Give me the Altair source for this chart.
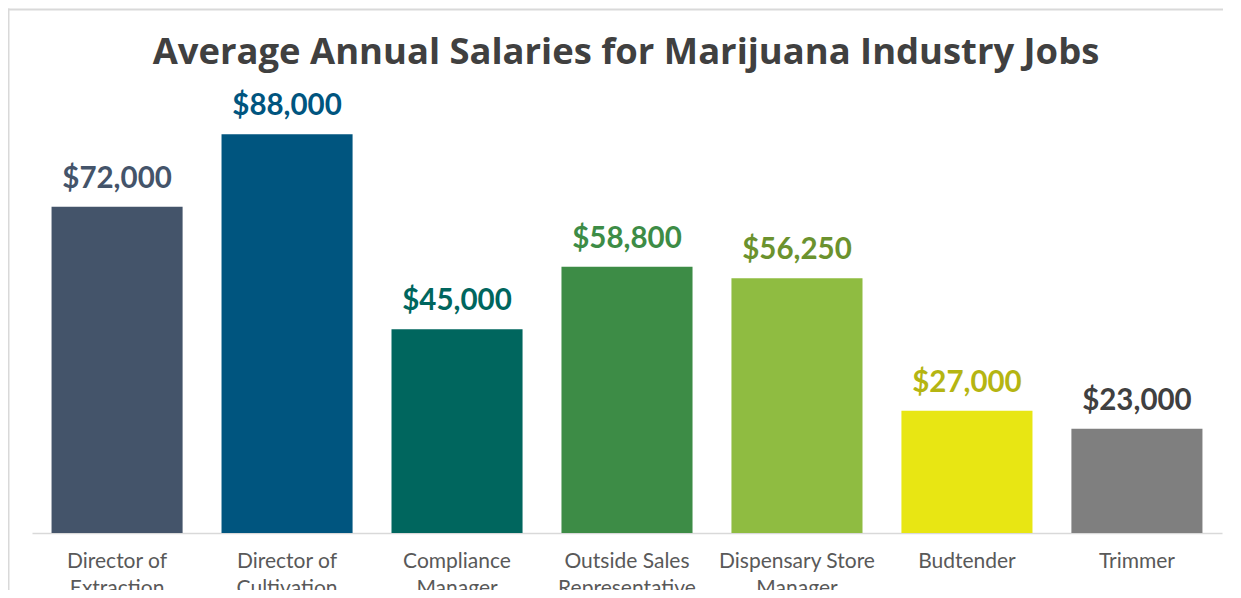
import altair as alt
import pandas as pd

title_text = "Average Annual Salaries for Marijuana Industry Jobs"

categories = [
    "Director of Extraction",
    "Director of Cultivation",
    "Compliance Manager",
    "Outside Sales Representative",
    "Dispensary Store Manager",
    "Budtender",
    "Trimmer",
]
salaries = [72000, 88000, 45000, 58800, 56250, 27000, 23000]

bar_colors = ["#44546A", "#00557F", "#00665E", "#3D8C46", "#8FBC41", "#E8E613", "#7F7F7F"]
label_colors = ["#44546A", "#00557F", "#00665E", "#3D8C46", "#6B922E", "#B5B512", "#404040"]

df = pd.DataFrame({"job": categories, "salary": salaries})
one = pd.DataFrame({"t": [title_text]})

FONT = "Lato"
BORDER = "#d9d9d9"

x_enc = alt.X(
    "job:N",
    sort=categories,
    scale=alt.Scale(paddingInner=0.229, paddingOuter=0.115),
    axis=alt.Axis(
        title=None,
        labelAngle=0,
        ticks=False,
        domainColor=BORDER,
        domainWidth=1.5,
        labelFont=FONT,
        labelFontSize=21,
        labelColor="#595959",
        labelPadding=17,
        labelLineHeight=27,
        labelExpr="indexof(datum.label, ' ') < 0 ? datum.label : "
                  "[slice(datum.label, 0, lastindexof(datum.label, ' ')), "
                  "slice(datum.label, lastindexof(datum.label, ' ') + 1)]",
    ),
)
y_enc = alt.Y("salary:Q", scale=alt.Scale(domain=[0, 100000]), axis=None)

border_top = alt.Chart(one).mark_rule(color=BORDER, strokeWidth=2).encode(
    x=alt.value(-24.5), x2=alt.value(1250), y=alt.value(-70.5)
)
border_left = alt.Chart(one).mark_rule(color=BORDER, strokeWidth=2).encode(
    x=alt.value(-23.5), y=alt.value(-71.5), y2=alt.value(600)
)

title = alt.Chart(one).mark_text(
    font="Open Sans", fontSize=36.4, fontWeight="bold", color="#404040",
    align="center", baseline="alphabetic"
).encode(
    x=alt.value(594), y=alt.value(-16), text="t:N"
)

bars = alt.Chart(df).mark_bar().encode(
    x=x_enc,
    y=y_enc,
    color=alt.Color("job:N", scale=alt.Scale(domain=categories, range=bar_colors), legend=None),
)

labels = alt.Chart(df).mark_text(
    font=FONT, fontSize=29.5, fontWeight="bold", baseline="alphabetic", dy=-19
).encode(
    x=alt.X("job:N", sort=categories),
    y=y_enc,
    text=alt.Text("salary:Q", format="$,.0f"),
    color=alt.Color("job:N", scale=alt.Scale(domain=categories, range=label_colors), legend=None),
)

chart = (
    alt.layer(border_top, border_left, title, bars, labels)
    .resolve_scale(color="independent")
    .properties(
        width=1190,
        height=453,
        autosize="none",
        padding={"left": 24, "top": 72, "right": 1, "bottom": 57},
    )
    .configure_view(stroke=None)
)

chart.save("out.html", embed_options={"renderer": "svg", "actions": False})
